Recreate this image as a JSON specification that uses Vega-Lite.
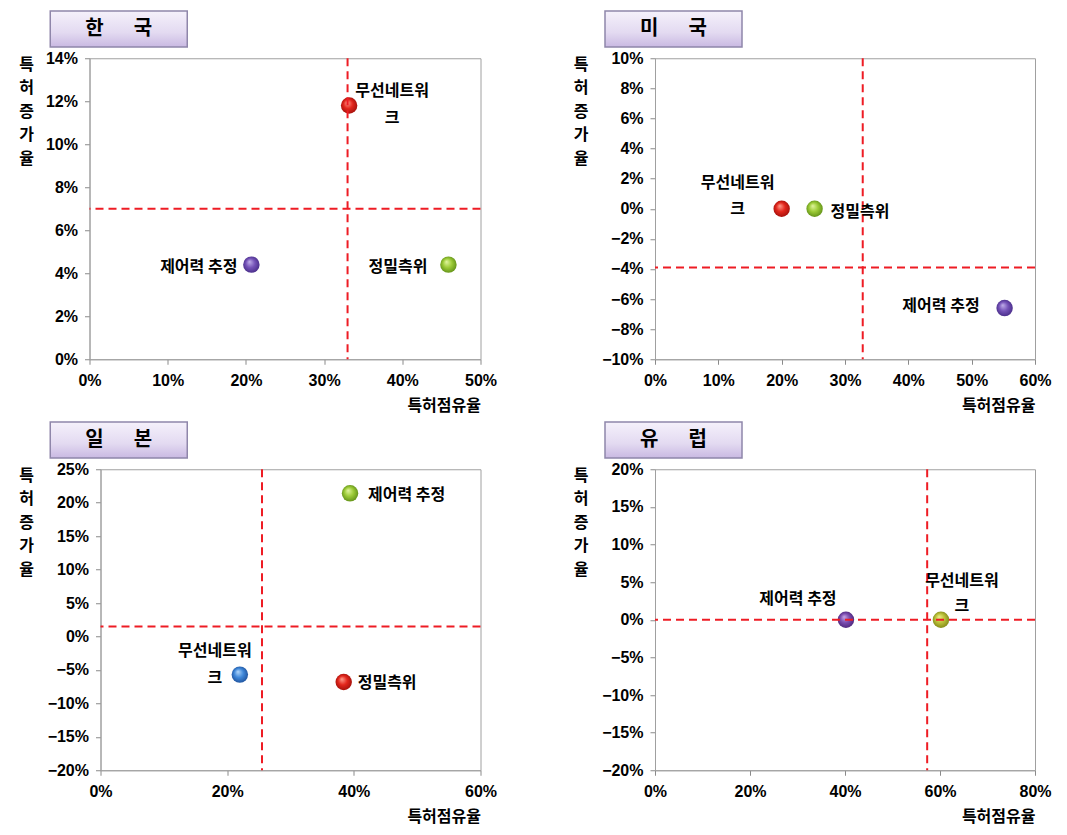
{
"$schema":"https://vega.github.io/schema/vega-lite/v6.json",
"background":"#ffffff",
"padding":{"left":16.5,"top":10,"right":10,"bottom":10},
"datasets":{
 "points":[
  {"country":"한국","tech":"무선네트워크","label":"무선네트워\n크","share":0.332,"growth":0.118},
  {"country":"한국","tech":"제어력 추정","label":"제어력 추정","share":0.207,"growth":0.044},
  {"country":"한국","tech":"정밀측위","label":"정밀측위","share":0.459,"growth":0.044},
  {"country":"미국","tech":"무선네트워크","label":"무선네트워\n크","share":0.200,"growth":0.000},
  {"country":"미국","tech":"정밀측위","label":"정밀측위","share":0.252,"growth":0.000},
  {"country":"미국","tech":"제어력 추정","label":"제어력 추정","share":0.552,"growth":-0.066},
  {"country":"일본","tech":"제어력 추정","label":"제어력 추정","share":0.394,"growth":0.214},
  {"country":"일본","tech":"정밀측위","label":"정밀측위","share":0.384,"growth":-0.068},
  {"country":"일본","tech":"무선네트워크","label":"무선네트워\n크","share":0.220,"growth":-0.057},
  {"country":"유럽","tech":"제어력 추정","label":"제어력 추정","share":0.402,"growth":0.000},
  {"country":"유럽","tech":"무선네트워크","label":"무선네트워\n크","share":0.602,"growth":0.000}
 ],
 "refs":[
  {"country":"한국","shareRef":0.330,"growthRef":0.070},
  {"country":"미국","shareRef":0.328,"growthRef":-0.039},
  {"country":"일본","shareRef":0.255,"growthRef":0.015},
  {"country":"유럽","shareRef":0.573,"growthRef":0.000}
 ],
 "headers":[
  {"country":"한국","heading":"한\u3000\u2002국"},
  {"country":"미국","heading":"미\u3000\u2002국"},
  {"country":"일본","heading":"일\u3000\u2002본"},
  {"country":"유럽","heading":"유\u3000\u2002럽"}
 ]
},
"spacing":7,
"vconcat":[
 {"spacing":1.25,"vconcat":[
  {"spacing":415.5,"hconcat":[
   {"spacing":31.75,"hconcat":[
    {"width":1,"height":1,"data":{"values":[]},"mark":"point","view":{"stroke":null}},
    {"width":137,"height":36,"data":{"name":"headers"},"transform":[{"filter":"datum.country === '한국'"}],
     "mark":{"type":"text","fontSize":20,"fontWeight":"bold","font":"Noto Sans CJK KR"},
     "encoding":{"text":{"field":"heading"}},
     "view":{"fill":{"gradient":"linear","x1":0,"y1":0,"x2":0,"y2":1,"stops":[{"offset":0,"color":"#f5f1fb"},{"offset":0.6,"color":"#e3daf1"},{"offset":1,"color":"#c9b9e2"}]},"stroke":"#8f86aa","strokeWidth":1.5}}
   ]},
   {"width":137,"height":36,"data":{"name":"headers"},"transform":[{"filter":"datum.country === '미국'"}],
    "mark":{"type":"text","fontSize":20,"fontWeight":"bold","font":"Noto Sans CJK KR"},
    "encoding":{"text":{"field":"heading"}},
    "view":{"fill":{"gradient":"linear","x1":0,"y1":0,"x2":0,"y2":1,"stops":[{"offset":0,"color":"#f5f1fb"},{"offset":0.6,"color":"#e3daf1"},{"offset":1,"color":"#c9b9e2"}]},"stroke":"#8f86aa","strokeWidth":1.5}}
  ]},
  {"spacing":74.5,"hconcat":[
   {"spacing":0,"hconcat":[
    {"width":1,"height":1,"data":{"values":[]},"mark":"point","view":{"stroke":null}},
    {"width":391,"height":301,"layer":[
     {"data":{"name":"points"},"transform":[{"filter":"datum.country === '한국' && datum.tech === '무선네트워크'"}],
      "mark":{"type":"circle","size":270,"opacity":1,"fill":{"gradient":"radial","x1":0.38,"y1":0.32,"r1":0,"x2":0.5,"y2":0.5,"r2":0.55,"stops":[{"offset":0,"color":"#ff9f8f"},{"offset":0.5,"color":"#e3261c"},{"offset":1,"color":"#9e0f0a"}]}},
      "encoding":{
       "x":{"field":"share","type":"quantitative","title":"특허점유율","scale":{"domain":[0,0.5],"nice":false},"axis":{"values":[0,0.1,0.2,0.3,0.4,0.5],"tickCount":30,"format":".0%"}},
       "y":{"field":"growth","type":"quantitative","title":["특","허","증","가","율"],"scale":{"domain":[0,0.14],"nice":false},"axis":{"values":[0,0.02,0.04,0.06,0.08,0.1,0.12,0.14],"tickCount":30,"format":".0%","titleX":-63.5}}}},
     {"data":{"name":"points"},"transform":[{"filter":"datum.country === '한국' && datum.tech === '제어력 추정'"}],
      "mark":{"type":"circle","size":270,"opacity":1,"fill":{"gradient":"radial","x1":0.38,"y1":0.32,"r1":0,"x2":0.5,"y2":0.5,"r2":0.55,"stops":[{"offset":0,"color":"#c2b0ea"},{"offset":0.5,"color":"#7553b8"},{"offset":1,"color":"#452a85"}]}},
      "encoding":{
       "x":{"field":"share","type":"quantitative","title":"특허점유율","scale":{"domain":[0,0.5],"nice":false}},
       "y":{"field":"growth","type":"quantitative","title":["특","허","증","가","율"],"scale":{"domain":[0,0.14],"nice":false}}}},
     {"data":{"name":"points"},"transform":[{"filter":"datum.country === '한국' && datum.tech === '정밀측위'"}],
      "mark":{"type":"circle","size":270,"opacity":1,"fill":{"gradient":"radial","x1":0.38,"y1":0.32,"r1":0,"x2":0.5,"y2":0.5,"r2":0.55,"stops":[{"offset":0,"color":"#e2f5a0"},{"offset":0.5,"color":"#9ccb37"},{"offset":1,"color":"#5d8c16"}]}},
      "encoding":{
       "x":{"field":"share","type":"quantitative","title":"특허점유율","scale":{"domain":[0,0.5],"nice":false}},
       "y":{"field":"growth","type":"quantitative","title":["특","허","증","가","율"],"scale":{"domain":[0,0.14],"nice":false}}}},
     {"data":{"name":"refs"},"transform":[{"filter":"datum.country === '한국'"}],
      "mark":{"type":"rule","color":"#ee1c24","strokeDash":[8,5],"strokeWidth":2},
      "encoding":{"x":{"field":"shareRef","type":"quantitative","title":"특허점유율","scale":{"domain":[0,0.5],"nice":false}}}},
     {"data":{"name":"refs"},"transform":[{"filter":"datum.country === '한국'"}],
      "mark":{"type":"rule","color":"#ee1c24","strokeDash":[8,5],"strokeWidth":2},
      "encoding":{"y":{"field":"growthRef","type":"quantitative","title":["특","허","증","가","율"],"scale":{"domain":[0,0.14],"nice":false}}}},
     {"data":{"name":"points"},"transform":[{"filter":"datum.country === '한국' && datum.tech === '무선네트워크'"}],
      "mark":{"type":"text","align":"center","baseline":"middle","dx":43,"dy":-15,"lineBreak":"\n","lineHeight":27},
      "encoding":{
       "x":{"field":"share","type":"quantitative","title":"특허점유율","scale":{"domain":[0,0.5],"nice":false}},
       "y":{"field":"growth","type":"quantitative","title":["특","허","증","가","율"],"scale":{"domain":[0,0.14],"nice":false}},
       "text":{"field":"label"}}},
     {"data":{"name":"points"},"transform":[{"filter":"datum.country === '한국' && datum.tech === '제어력 추정'"}],
      "mark":{"type":"text","align":"right","baseline":"middle","dx":-14,"dy":2},
      "encoding":{
       "x":{"field":"share","type":"quantitative","title":"특허점유율","scale":{"domain":[0,0.5],"nice":false}},
       "y":{"field":"growth","type":"quantitative","title":["특","허","증","가","율"],"scale":{"domain":[0,0.14],"nice":false}},
       "text":{"field":"label"}}},
     {"data":{"name":"points"},"transform":[{"filter":"datum.country === '한국' && datum.tech === '정밀측위'"}],
      "mark":{"type":"text","align":"right","baseline":"middle","dx":-21,"dy":2},
      "encoding":{
       "x":{"field":"share","type":"quantitative","title":"특허점유율","scale":{"domain":[0,0.5],"nice":false}},
       "y":{"field":"growth","type":"quantitative","title":["특","허","증","가","율"],"scale":{"domain":[0,0.14],"nice":false}},
       "text":{"field":"label"}}}
    ]}
   ]},
   {"width":380,"height":301,"layer":[
     {"data":{"name":"points"},"transform":[{"filter":"datum.country === '미국' && datum.tech === '무선네트워크'"}],
      "mark":{"type":"circle","size":270,"opacity":1,"fill":{"gradient":"radial","x1":0.38,"y1":0.32,"r1":0,"x2":0.5,"y2":0.5,"r2":0.55,"stops":[{"offset":0,"color":"#ff9f8f"},{"offset":0.5,"color":"#e3261c"},{"offset":1,"color":"#9e0f0a"}]}},
      "encoding":{
       "x":{"field":"share","type":"quantitative","title":"특허점유율","scale":{"domain":[0,0.6],"nice":false},"axis":{"values":[0,0.1,0.2,0.3,0.4,0.5,0.6],"tickCount":30,"format":".0%"}},
       "y":{"field":"growth","type":"quantitative","title":["특","허","증","가","율"],"scale":{"domain":[-0.1,0.1],"nice":false},"axis":{"values":[-0.1,-0.08,-0.06,-0.04,-0.02,0,0.02,0.04,0.06,0.08,0.1],"tickCount":30,"format":".0%"}}}},
     {"data":{"name":"points"},"transform":[{"filter":"datum.country === '미국' && datum.tech === '정밀측위'"}],
      "mark":{"type":"circle","size":270,"opacity":1,"fill":{"gradient":"radial","x1":0.38,"y1":0.32,"r1":0,"x2":0.5,"y2":0.5,"r2":0.55,"stops":[{"offset":0,"color":"#e2f5a0"},{"offset":0.5,"color":"#9ccb37"},{"offset":1,"color":"#5d8c16"}]}},
      "encoding":{
       "x":{"field":"share","type":"quantitative","title":"특허점유율","scale":{"domain":[0,0.6],"nice":false}},
       "y":{"field":"growth","type":"quantitative","title":["특","허","증","가","율"],"scale":{"domain":[-0.1,0.1],"nice":false}}}},
     {"data":{"name":"points"},"transform":[{"filter":"datum.country === '미국' && datum.tech === '제어력 추정'"}],
      "mark":{"type":"circle","size":270,"opacity":1,"fill":{"gradient":"radial","x1":0.38,"y1":0.32,"r1":0,"x2":0.5,"y2":0.5,"r2":0.55,"stops":[{"offset":0,"color":"#c2b0ea"},{"offset":0.5,"color":"#7553b8"},{"offset":1,"color":"#452a85"}]}},
      "encoding":{
       "x":{"field":"share","type":"quantitative","title":"특허점유율","scale":{"domain":[0,0.6],"nice":false}},
       "y":{"field":"growth","type":"quantitative","title":["특","허","증","가","율"],"scale":{"domain":[-0.1,0.1],"nice":false}}}},
     {"data":{"name":"refs"},"transform":[{"filter":"datum.country === '미국'"}],
      "mark":{"type":"rule","color":"#ee1c24","strokeDash":[8,5],"strokeWidth":2},
      "encoding":{"x":{"field":"shareRef","type":"quantitative","title":"특허점유율","scale":{"domain":[0,0.6],"nice":false}}}},
     {"data":{"name":"refs"},"transform":[{"filter":"datum.country === '미국'"}],
      "mark":{"type":"rule","color":"#ee1c24","strokeDash":[8,5],"strokeWidth":2},
      "encoding":{"y":{"field":"growthRef","type":"quantitative","title":["특","허","증","가","율"],"scale":{"domain":[-0.1,0.1],"nice":false}}}},
     {"data":{"name":"points"},"transform":[{"filter":"datum.country === '미국' && datum.tech === '무선네트워크'"}],
      "mark":{"type":"text","align":"center","baseline":"middle","dx":-44,"dy":-26,"lineBreak":"\n","lineHeight":26},
      "encoding":{
       "x":{"field":"share","type":"quantitative","title":"특허점유율","scale":{"domain":[0,0.6],"nice":false}},
       "y":{"field":"growth","type":"quantitative","title":["특","허","증","가","율"],"scale":{"domain":[-0.1,0.1],"nice":false}},
       "text":{"field":"label"}}},
     {"data":{"name":"points"},"transform":[{"filter":"datum.country === '미국' && datum.tech === '정밀측위'"}],
      "mark":{"type":"text","align":"left","baseline":"middle","dx":16,"dy":3},
      "encoding":{
       "x":{"field":"share","type":"quantitative","title":"특허점유율","scale":{"domain":[0,0.6],"nice":false}},
       "y":{"field":"growth","type":"quantitative","title":["특","허","증","가","율"],"scale":{"domain":[-0.1,0.1],"nice":false}},
       "text":{"field":"label"}}},
     {"data":{"name":"points"},"transform":[{"filter":"datum.country === '미국' && datum.tech === '제어력 추정'"}],
      "mark":{"type":"text","align":"right","baseline":"middle","dx":-25,"dy":-2},
      "encoding":{
       "x":{"field":"share","type":"quantitative","title":"특허점유율","scale":{"domain":[0,0.6],"nice":false}},
       "y":{"field":"growth","type":"quantitative","title":["특","허","증","가","율"],"scale":{"domain":[-0.1,0.1],"nice":false}},
       "text":{"field":"label"}}}
   ]}
  ]}
 ]},
 {"spacing":1.25,"vconcat":[
  {"spacing":415.5,"hconcat":[
   {"spacing":31.75,"hconcat":[
    {"width":1,"height":1,"data":{"values":[]},"mark":"point","view":{"stroke":null}},
    {"width":137,"height":36,"data":{"name":"headers"},"transform":[{"filter":"datum.country === '일본'"}],
     "mark":{"type":"text","fontSize":20,"fontWeight":"bold","font":"Noto Sans CJK KR"},
     "encoding":{"text":{"field":"heading"}},
     "view":{"fill":{"gradient":"linear","x1":0,"y1":0,"x2":0,"y2":1,"stops":[{"offset":0,"color":"#f5f1fb"},{"offset":0.6,"color":"#e3daf1"},{"offset":1,"color":"#c9b9e2"}]},"stroke":"#8f86aa","strokeWidth":1.5}}
   ]},
   {"width":137,"height":36,"data":{"name":"headers"},"transform":[{"filter":"datum.country === '유럽'"}],
    "mark":{"type":"text","fontSize":20,"fontWeight":"bold","font":"Noto Sans CJK KR"},
    "encoding":{"text":{"field":"heading"}},
    "view":{"fill":{"gradient":"linear","x1":0,"y1":0,"x2":0,"y2":1,"stops":[{"offset":0,"color":"#f5f1fb"},{"offset":0.6,"color":"#e3daf1"},{"offset":1,"color":"#c9b9e2"}]},"stroke":"#8f86aa","strokeWidth":1.5}}
  ]},
  {"spacing":74.5,"hconcat":[
   {"spacing":0,"hconcat":[
    {"width":1,"height":1,"data":{"values":[]},"mark":"point","view":{"stroke":null}},
    {"width":380,"height":301,"layer":[
     {"data":{"name":"points"},"transform":[{"filter":"datum.country === '일본' && datum.tech === '제어력 추정'"}],
      "mark":{"type":"circle","size":270,"opacity":1,"fill":{"gradient":"radial","x1":0.38,"y1":0.32,"r1":0,"x2":0.5,"y2":0.5,"r2":0.55,"stops":[{"offset":0,"color":"#e2f5a0"},{"offset":0.5,"color":"#9ccb37"},{"offset":1,"color":"#5d8c16"}]}},
      "encoding":{
       "x":{"field":"share","type":"quantitative","title":"특허점유율","scale":{"domain":[0,0.6],"nice":false},"axis":{"values":[0,0.2,0.4,0.6],"tickCount":30,"format":".0%"}},
       "y":{"field":"growth","type":"quantitative","title":["특","허","증","가","율"],"scale":{"domain":[-0.2,0.25],"nice":false},"axis":{"values":[-0.2,-0.15,-0.1,-0.05,0,0.05,0.1,0.15,0.2,0.25],"tickCount":30,"format":".0%"}}}},
     {"data":{"name":"points"},"transform":[{"filter":"datum.country === '일본' && datum.tech === '정밀측위'"}],
      "mark":{"type":"circle","size":270,"opacity":1,"fill":{"gradient":"radial","x1":0.38,"y1":0.32,"r1":0,"x2":0.5,"y2":0.5,"r2":0.55,"stops":[{"offset":0,"color":"#ff9f8f"},{"offset":0.5,"color":"#e3261c"},{"offset":1,"color":"#9e0f0a"}]}},
      "encoding":{
       "x":{"field":"share","type":"quantitative","title":"특허점유율","scale":{"domain":[0,0.6],"nice":false}},
       "y":{"field":"growth","type":"quantitative","title":["특","허","증","가","율"],"scale":{"domain":[-0.2,0.25],"nice":false}}}},
     {"data":{"name":"points"},"transform":[{"filter":"datum.country === '일본' && datum.tech === '무선네트워크'"}],
      "mark":{"type":"circle","size":270,"opacity":1,"fill":{"gradient":"radial","x1":0.38,"y1":0.32,"r1":0,"x2":0.5,"y2":0.5,"r2":0.55,"stops":[{"offset":0,"color":"#b5d8fa"},{"offset":0.5,"color":"#3f88da"},{"offset":1,"color":"#1c4e98"}]}},
      "encoding":{
       "x":{"field":"share","type":"quantitative","title":"특허점유율","scale":{"domain":[0,0.6],"nice":false}},
       "y":{"field":"growth","type":"quantitative","title":["특","허","증","가","율"],"scale":{"domain":[-0.2,0.25],"nice":false}}}},
     {"data":{"name":"refs"},"transform":[{"filter":"datum.country === '일본'"}],
      "mark":{"type":"rule","color":"#ee1c24","strokeDash":[8,5],"strokeWidth":2},
      "encoding":{"x":{"field":"shareRef","type":"quantitative","title":"특허점유율","scale":{"domain":[0,0.6],"nice":false}}}},
     {"data":{"name":"refs"},"transform":[{"filter":"datum.country === '일본'"}],
      "mark":{"type":"rule","color":"#ee1c24","strokeDash":[8,5],"strokeWidth":2},
      "encoding":{"y":{"field":"growthRef","type":"quantitative","title":["특","허","증","가","율"],"scale":{"domain":[-0.2,0.25],"nice":false}}}},
     {"data":{"name":"points"},"transform":[{"filter":"datum.country === '일본' && datum.tech === '제어력 추정'"}],
      "mark":{"type":"text","align":"left","baseline":"middle","dx":18,"dy":2},
      "encoding":{
       "x":{"field":"share","type":"quantitative","title":"특허점유율","scale":{"domain":[0,0.6],"nice":false}},
       "y":{"field":"growth","type":"quantitative","title":["특","허","증","가","율"],"scale":{"domain":[-0.2,0.25],"nice":false}},
       "text":{"field":"label"}}},
     {"data":{"name":"points"},"transform":[{"filter":"datum.country === '일본' && datum.tech === '정밀측위'"}],
      "mark":{"type":"text","align":"left","baseline":"middle","dx":14,"dy":1},
      "encoding":{
       "x":{"field":"share","type":"quantitative","title":"특허점유율","scale":{"domain":[0,0.6],"nice":false}},
       "y":{"field":"growth","type":"quantitative","title":["특","허","증","가","율"],"scale":{"domain":[-0.2,0.25],"nice":false}},
       "text":{"field":"label"}}},
     {"data":{"name":"points"},"transform":[{"filter":"datum.country === '일본' && datum.tech === '무선네트워크'"}],
      "mark":{"type":"text","align":"center","baseline":"middle","dx":-25,"dy":-23.5,"lineBreak":"\n","lineHeight":27},
      "encoding":{
       "x":{"field":"share","type":"quantitative","title":"특허점유율","scale":{"domain":[0,0.6],"nice":false}},
       "y":{"field":"growth","type":"quantitative","title":["특","허","증","가","율"],"scale":{"domain":[-0.2,0.25],"nice":false}},
       "text":{"field":"label"}}}
    ]}
   ]},
   {"width":380,"height":301,"layer":[
     {"data":{"name":"points"},"transform":[{"filter":"datum.country === '유럽' && datum.tech === '제어력 추정'"}],
      "mark":{"type":"circle","size":270,"opacity":1,"fill":{"gradient":"radial","x1":0.38,"y1":0.32,"r1":0,"x2":0.5,"y2":0.5,"r2":0.55,"stops":[{"offset":0,"color":"#c9a6e6"},{"offset":0.5,"color":"#7a4cb0"},{"offset":1,"color":"#4a2478"}]}},
      "encoding":{
       "x":{"field":"share","type":"quantitative","title":"특허점유율","scale":{"domain":[0,0.8],"nice":false},"axis":{"values":[0,0.2,0.4,0.6,0.8],"tickCount":30,"format":".0%"}},
       "y":{"field":"growth","type":"quantitative","title":["특","허","증","가","율"],"scale":{"domain":[-0.2,0.2],"nice":false},"axis":{"values":[-0.2,-0.15,-0.1,-0.05,0,0.05,0.1,0.15,0.2],"tickCount":30,"format":".0%"}}}},
     {"data":{"name":"points"},"transform":[{"filter":"datum.country === '유럽' && datum.tech === '무선네트워크'"}],
      "mark":{"type":"circle","size":270,"opacity":1,"fill":{"gradient":"radial","x1":0.38,"y1":0.32,"r1":0,"x2":0.5,"y2":0.5,"r2":0.55,"stops":[{"offset":0,"color":"#eef08c"},{"offset":0.5,"color":"#bcc23a"},{"offset":1,"color":"#7d8415"}]}},
      "encoding":{
       "x":{"field":"share","type":"quantitative","title":"특허점유율","scale":{"domain":[0,0.8],"nice":false}},
       "y":{"field":"growth","type":"quantitative","title":["특","허","증","가","율"],"scale":{"domain":[-0.2,0.2],"nice":false}}}},
     {"data":{"name":"refs"},"transform":[{"filter":"datum.country === '유럽'"}],
      "mark":{"type":"rule","color":"#ee1c24","strokeDash":[8,5],"strokeWidth":2},
      "encoding":{"x":{"field":"shareRef","type":"quantitative","title":"특허점유율","scale":{"domain":[0,0.8],"nice":false}}}},
     {"data":{"name":"refs"},"transform":[{"filter":"datum.country === '유럽'"}],
      "mark":{"type":"rule","color":"#ee1c24","strokeDash":[8,5],"strokeWidth":2},
      "encoding":{"y":{"field":"growthRef","type":"quantitative","title":["특","허","증","가","율"],"scale":{"domain":[-0.2,0.2],"nice":false}}}},
     {"data":{"name":"points"},"transform":[{"filter":"datum.country === '유럽' && datum.tech === '제어력 추정'"}],
      "mark":{"type":"text","align":"center","baseline":"middle","dx":-48,"dy":-21},
      "encoding":{
       "x":{"field":"share","type":"quantitative","title":"특허점유율","scale":{"domain":[0,0.8],"nice":false}},
       "y":{"field":"growth","type":"quantitative","title":["특","허","증","가","율"],"scale":{"domain":[-0.2,0.2],"nice":false}},
       "text":{"field":"label"}}},
     {"data":{"name":"points"},"transform":[{"filter":"datum.country === '유럽' && datum.tech === '무선네트워크'"}],
      "mark":{"type":"text","align":"center","baseline":"middle","dx":21,"dy":-38.5,"lineBreak":"\n","lineHeight":25},
      "encoding":{
       "x":{"field":"share","type":"quantitative","title":"특허점유율","scale":{"domain":[0,0.8],"nice":false}},
       "y":{"field":"growth","type":"quantitative","title":["특","허","증","가","율"],"scale":{"domain":[-0.2,0.2],"nice":false}},
       "text":{"field":"label"}}}
   ]}
  ]}
 ]}
],
"config":{
 "font":"Noto Sans CJK KR",
 "view":{"stroke":"#a0a0a0","strokeWidth":1},
 "axis":{"grid":false,"domainColor":"#a0a0a0","domainWidth":1,"tickColor":"#8a8a8a","tickSize":5,"labelFont":"Liberation Sans","labelFontSize":16,"labelFontWeight":"bold","labelColor":"#000000","titleFont":"Noto Sans CJK KR","titleFontSize":16,"titleFontWeight":"bold","titleColor":"#000000","labelOverlap":false},
 "axisX":{"labelPadding":8,"labelFlush":false,"titleAnchor":"end","titleBaseline":"middle","titleY":46},
 "axisY":{"labelPadding":7,"titleAngle":0,"titleAlign":"center","titleBaseline":"top","titleLineHeight":23.5,"titleY":-2,"titleX":-74.5},
 "text":{"font":"Noto Sans CJK KR","fontSize":16,"fontWeight":"bold","color":"#000000"}
}
}
